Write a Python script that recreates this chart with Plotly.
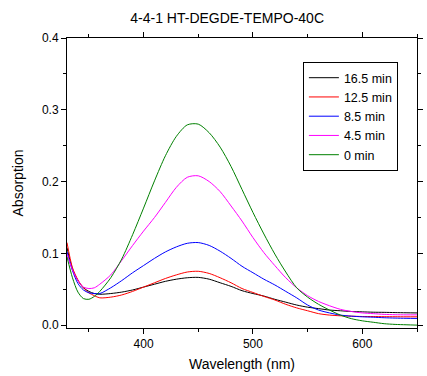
import plotly.graph_objects as go

wavelength = [330, 335, 340, 345, 350, 355, 360, 370, 380, 390, 400, 410, 420, 430, 440, 450,
              460, 470, 480, 490, 500, 510, 520, 530, 540, 550, 560, 570, 580, 590, 600, 610,
              620, 630, 640, 650]

abs_16_5 = [0.108, 0.078, 0.062, 0.052, 0.047, 0.044, 0.043, 0.044, 0.046, 0.049, 0.053, 0.057,
            0.061, 0.064, 0.066, 0.0665, 0.064, 0.059, 0.054, 0.048, 0.044, 0.0405, 0.036, 0.032,
            0.028, 0.025, 0.023, 0.021, 0.020, 0.019, 0.0185, 0.018, 0.0178, 0.0175, 0.0172, 0.017]

abs_12_5 = [0.115, 0.080, 0.063, 0.052, 0.045, 0.041, 0.038, 0.039, 0.042, 0.047, 0.053, 0.059,
            0.065, 0.070, 0.074, 0.075, 0.072, 0.066, 0.059, 0.051, 0.0455, 0.040, 0.035, 0.029,
            0.024, 0.020, 0.016, 0.014, 0.013, 0.0125, 0.012, 0.012, 0.0118, 0.0117, 0.0116, 0.0116]

abs_8_5 = [0.102, 0.076, 0.058, 0.049, 0.045, 0.044, 0.044, 0.052, 0.062, 0.073, 0.083, 0.093,
           0.102, 0.109, 0.114, 0.115, 0.111, 0.103, 0.093, 0.082, 0.073, 0.064, 0.056, 0.047,
           0.038, 0.028, 0.021, 0.017, 0.014, 0.0125, 0.0116, 0.011, 0.0103, 0.0098, 0.0095, 0.0093]

abs_4_5 = [0.099, 0.077, 0.062, 0.053, 0.051, 0.052, 0.057, 0.070, 0.090, 0.111, 0.131, 0.150,
           0.171, 0.192, 0.206, 0.208, 0.200, 0.186, 0.166, 0.145, 0.122, 0.101, 0.083, 0.066,
           0.052, 0.041, 0.033, 0.027, 0.022, 0.019, 0.017, 0.016, 0.015, 0.0145, 0.0143, 0.0143]

abs_0 = [0.095, 0.066, 0.046, 0.037, 0.036, 0.040, 0.047, 0.066, 0.092, 0.126, 0.163, 0.201,
         0.236, 0.263, 0.279, 0.280, 0.268, 0.248, 0.221, 0.189, 0.157, 0.127, 0.099, 0.074,
         0.052, 0.039, 0.029, 0.021, 0.014, 0.009, 0.006, 0.004, 0.002, 0.001, 0.0005, 0.0]

series_names = ["16.5 min", "12.5 min", "8.5 min", "4.5 min", "0 min"]
series_values = [abs_16_5, abs_12_5, abs_8_5, abs_4_5, abs_0]
series_colors = ["#000000", "#ff0000", "#0000ff", "#ff00ff", "#008000"]

fig = go.Figure()
for name, vals, col in zip(series_names, series_values, series_colors):
    fig.add_trace(go.Scatter(x=wavelength, y=vals, mode="lines", name=name,
                             line=dict(color=col, width=1, shape="spline", smoothing=0.8)))

font_family = "Liberation Sans, Arial, sans-serif"
fig.update_layout(
    width=427, height=376,
    margin=dict(l=67, r=4, t=38, b=48),
    paper_bgcolor="white", plot_bgcolor="white",
    font=dict(family=font_family, size=12, color="black"),
    title=dict(text="4-4-1 HT-DEGDE-TEMPO-40C", x=0.532, xanchor="center",
               y=1 - 18 / 376, yanchor="middle", yref="container",
               font=dict(size=14, color="black")),
    showlegend=True,
    legend=dict(x=0.674, y=0.917, xanchor="left", yanchor="top",
                bordercolor="black", borderwidth=1, bgcolor="white",
                font=dict(size=12.5, color="black"), tracegroupgap=0,
                itemwidth=30),
)
fig.update_xaxes(
    range=[330, 650], showgrid=False, zeroline=False,
    showline=True, linecolor="black", linewidth=1, mirror="allticks",
    ticks="outside", ticklen=5, tickwidth=1, tickcolor="black",
    tickvals=[400, 500, 600], ticktext=["400", "500", "600"],
    minor=dict(tickvals=[350, 450, 550, 650], ticklen=3, ticks="outside", tickcolor="black"),
    tickfont=dict(size=12),
    title=dict(text="Wavelength (nm)", font=dict(size=14), standoff=8),
)
fig.update_yaxes(
    range=[-0.004, 0.4], showgrid=False, zeroline=False,
    showline=True, linecolor="black", linewidth=1, mirror="allticks",
    ticks="outside", ticklen=5, tickwidth=1, tickcolor="black",
    tickvals=[0.0, 0.1, 0.2, 0.3, 0.4], ticktext=["0.0", "0.1", "0.2", "0.3", "0.4"],
    minor=dict(tickvals=[0.05, 0.15, 0.25, 0.35], ticklen=3, ticks="outside", tickcolor="black"),
    tickfont=dict(size=12),
    title=dict(text="Absorption", font=dict(size=14), standoff=15),
)

fig.write_html("out.html")
